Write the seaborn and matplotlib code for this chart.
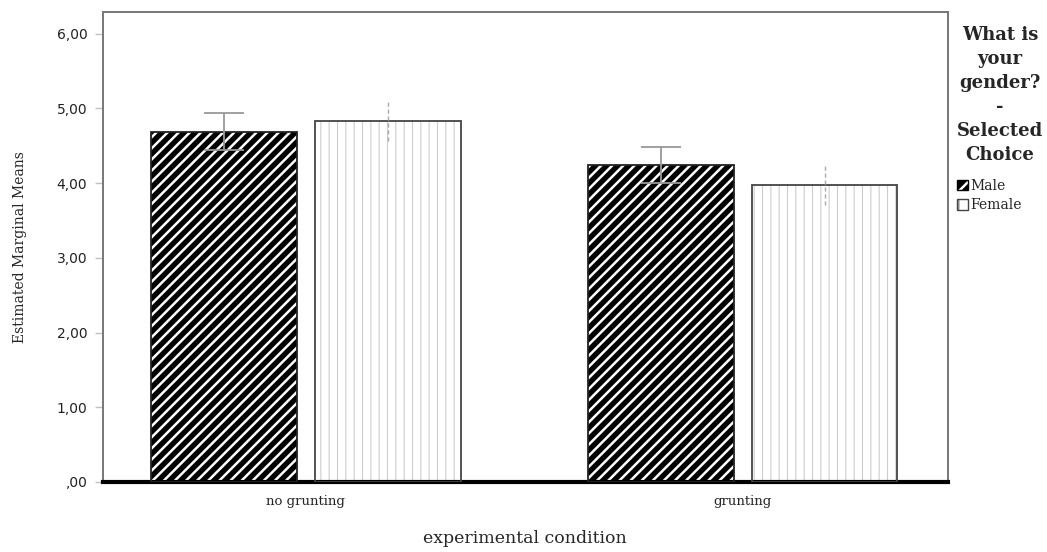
import numpy as np
import pandas as pd
import matplotlib.pyplot as plt
import seaborn as sns
from matplotlib.patches import Rectangle, Patch
from matplotlib.legend_handler import HandlerTuple
from matplotlib.ticker import FuncFormatter

# values
conditions = ['no grunting', 'grunting']
genders = ['Male', 'Female']
male_means = [4.69, 4.24]
female_means = [4.83, 3.97]
male_se = [0.25, 0.24]
female_se = [0.27, 0.26]

df = pd.DataFrame({
    'condition': conditions * 2,
    'gender': ['Male'] * 2 + ['Female'] * 2,
    'mean': male_means + female_means,
    'se': male_se + female_se,
})

sns.set_style('white')
plt.rcParams['font.family'] = ['DejaVu Serif', 'Liberation Serif']
plt.rcParams['hatch.linewidth'] = 1.8

fig, ax = plt.subplots(figsize=(10.47, 5.52), dpi=100)
fig.subplots_adjust(left=0.098, right=0.905, top=0.978, bottom=0.127)

sns.barplot(data=df, x='condition', y='mean', hue='gender', order=conditions,
            hue_order=genders, palette={'Male': 'black', 'Female': 'white'},
            width=0.75, gap=0.11, errorbar=None, legend=False, ax=ax)

bars = [p for p in ax.patches if p.get_height() > 0]
for i, p in enumerate(bars):
    g = genders[i // 2]
    row = df[(df.gender == g) & (df.condition == conditions[i % 2])].iloc[0]
    if g == 'Male':
        p.set_facecolor('black')
        p.set_edgecolor('white')
        p.set_hatch('///')
        if hasattr(p, 'set_hatch_linewidth'):
            p.set_hatch_linewidth(1.8)
    else:
        p.set_facecolor('white')
        p.set_edgecolor('#cccccc')
        p.set_hatch('||')
        if hasattr(p, 'set_hatch_linewidth'):
            p.set_hatch_linewidth(0.8)
    p.set_linewidth(0)
    ax.add_patch(Rectangle(p.get_xy(), p.get_width(), p.get_height(), fill=False,
                           edgecolor='#222222' if g == 'Male' else '#444444',
                           lw=1.3, zorder=3))
    xc = p.get_x() + p.get_width() / 2
    if g == 'Male':
        ax.errorbar(xc, row['mean'], yerr=row['se'], color='#999999', lw=1.3,
                    capsize=14.5, capthick=1.3, zorder=4)
    else:
        eb = ax.errorbar(xc, row['mean'], yerr=row['se'], color='#aaaaaa', lw=1.0,
                         capsize=0, zorder=4)
        eb[2][0].set_linestyle((0, (3, 2)))

ax.set_xlim(-0.465, 1.469)
ax.set_ylim(0, 6.29)
ax.set_yticks(np.arange(0, 7, 1))
ax.yaxis.set_major_formatter(FuncFormatter(lambda v, _: ',00' if v == 0 else f'{v:.2f}'.replace('.', ',')))
for lab in ax.get_yticklabels():
    lab.set_fontfamily('DejaVu Sans')
    lab.set_fontsize(10)
    lab.set_color('#222222')
ax.tick_params(axis='y', left=True, length=6, width=1, color='#c0c0c0', pad=5)
ax.tick_params(axis='x', bottom=False, labelsize=9.5, pad=6)

for side in ['left', 'top', 'right']:
    ax.spines[side].set_color('#777777')
    ax.spines[side].set_linewidth(1.4)
ax.spines['bottom'].set_color('black')
ax.spines['bottom'].set_linewidth(3)

ax.set_xlabel('experimental condition', fontsize=12.5, labelpad=16)
ax.set_ylabel('Estimated Marginal Means', fontsize=10, labelpad=21)

# legend swatches: hatch fill plus a separate outline on top
male_handle = (Patch(facecolor='black', edgecolor='white', hatch='//', linewidth=0),
               Patch(fill=False, edgecolor='black', linewidth=1.0))
female_handle = (Patch(facecolor='white', edgecolor='#999999', hatch='|', linewidth=0),
                 Patch(fill=False, edgecolor='#444444', linewidth=1.0))
leg = ax.legend([male_handle, female_handle], genders, loc='upper left',
                bbox_to_anchor=(1.011, 0.97),
                handler_map={tuple: HandlerTuple(ndivide=1, pad=0)},
                title='What is\nyour\ngender?\n-\nSelected\nChoice', frameon=False,
                fontsize=10, handlelength=0.8, handleheight=0.8, handletextpad=0.2,
                labelspacing=0.4, borderaxespad=0, borderpad=0)
leg.get_title().set_fontsize(13)
leg.get_title().set_fontweight('bold')
leg.get_title().set_multialignment('center')
leg.get_title().set_linespacing(1.42)
leg._legend_box.align = 'left'
leg._legend_box.sep = 11

fig.savefig('out.png', dpi=100)
